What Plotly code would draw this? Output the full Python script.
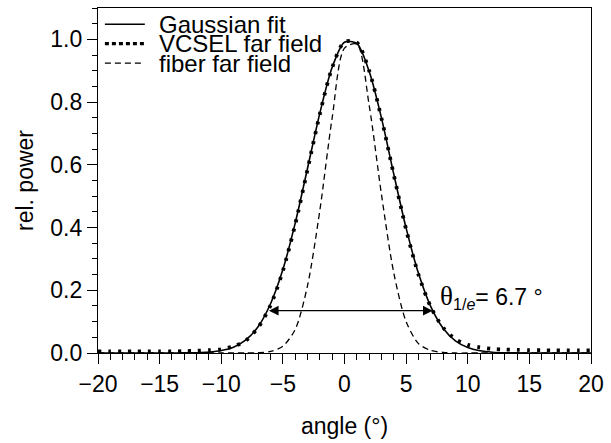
import plotly.graph_objects as go

# angle grid (degrees)
angle = list(range(-20, 21))

# Gaussian fit to the VCSEL far field
fit_power = [0.0, 0.0, 0.0, 0.0, 0.0, 0.0, 0.0001, 0.0003, 0.0010, 0.0029,
             0.0077, 0.0187, 0.0415, 0.0843, 0.157, 0.266, 0.414, 0.589, 0.765, 0.911,
             0.991, 0.987, 0.898, 0.749, 0.570, 0.398, 0.254, 0.148, 0.079, 0.0385,
             0.0172, 0.0070, 0.0026, 0.0009, 0.0003, 0.0, 0.0, 0.0, 0.0, 0.0, 0.0]

# measured VCSEL far field
vcsel_power = [0.005, 0.005, 0.005, 0.005, 0.005, 0.005, 0.005, 0.006, 0.007, 0.009,
               0.012, 0.021, 0.040, 0.082, 0.152, 0.262, 0.410, 0.585, 0.762, 0.910,
               0.992, 0.990, 0.900, 0.748, 0.568, 0.394, 0.250, 0.147, 0.081, 0.044,
               0.026, 0.018, 0.013, 0.011, 0.010, 0.009, 0.009, 0.008, 0.008, 0.008, 0.008]

# measured fiber far field
fiber_power = [0.0, 0.0, 0.0, 0.0, 0.0, 0.0, 0.0, 0.0, 0.0, 0.0,
               0.0, 0.0, 0.0, 0.001, 0.005, 0.022, 0.075, 0.215, 0.455, 0.750,
               0.972, 0.985, 0.790, 0.505, 0.255, 0.100, 0.030, 0.008, 0.002, 0.0,
               0.0, 0.0, 0.0, 0.0, 0.0, 0.0, 0.0, 0.0, 0.0, 0.0, 0.0]

fit_center = 0.45      # deg
theta_1e = 6.7         # deg, half width
arrow_level = 0.135    # 1/e^2 of peak

x_ticks = [-20, -15, -10, -5, 0, 5, 10, 15, 20]
y_ticks = [0.0, 0.2, 0.4, 0.6, 0.8, 1.0]

FONT = "Liberation Sans, Arial, sans-serif"

fig = go.Figure()
fig.add_trace(go.Scatter(x=angle, y=fiber_power, mode="lines", name="fiber far field",
                         line=dict(color="black", width=1.3, dash="6px,4px", shape="spline", smoothing=0.8)))
fig.add_trace(go.Scatter(x=angle, y=fit_power, mode="lines", name="Gaussian fit",
                         line=dict(color="black", width=1.6, shape="spline", smoothing=0.8)))
fig.add_trace(go.Scatter(x=angle, y=vcsel_power, mode="lines", name="VCSEL far field",
                         line=dict(color="black", width=3.8, dash="3px,7px", shape="spline", smoothing=0.8)))

# legend drawn inside the axes
legend_rows = [("Gaussian fit", "solid", 1.5), ("VCSEL far field", "4px,3px", 3.2),
               ("fiber far field", "6px,4px", 1.3)]
legend_y = [0.953, 0.897, 0.840]
shapes = []
annotations = []
for (label, dash, w), ly in zip(legend_rows, legend_y):
    shapes.append(dict(type="line", xref="x domain", yref="y domain",
                       x0=0.014, x1=0.095, y0=ly, y1=ly,
                       line=dict(color="black", width=w, dash=dash)))
    annotations.append(dict(xref="x domain", yref="y domain", x=0.120, y=ly,
                            text=label, showarrow=False, xanchor="left", yanchor="middle",
                            font=dict(family=FONT, size=24, color="black")))

# full width arrow at the 1/e^2 level
annotations.append(dict(x=fit_center + theta_1e, y=arrow_level,
                        ax=fit_center - theta_1e, ay=arrow_level,
                        xref="x", yref="y", axref="x", ayref="y",
                        text="", showarrow=True, arrowhead=2, arrowside="end+start",
                        arrowsize=1.6, arrowwidth=1.2, arrowcolor="black"))
annotations.append(dict(x=7.55, y=0.18, xref="x", yref="y", xanchor="left", yanchor="middle",
                        showarrow=False,
                        text=("<span style='font-family:Liberation Serif, Times New Roman, serif;font-size:27px'>θ</span>"
                              "<sub>1/<i>e</i></sub>= %.1f °" % theta_1e),
                        font=dict(family=FONT, size=23, color="black")))

fig.update_layout(
    width=611, height=443,
    margin=dict(l=98, r=18, t=7, b=90),
    paper_bgcolor="white", plot_bgcolor="white",
    showlegend=False,
    shapes=shapes, annotations=annotations,
    font=dict(family=FONT, size=23, color="black"),
)
fig.update_xaxes(
    range=[-20, 20], tickvals=x_ticks, ticktext=[("−%d" % -v) if v < 0 else str(v) for v in x_ticks],
    ticks="outside", ticklen=10, tickwidth=1.2, tickcolor="black",
    minor=dict(dtick=1, ticks="outside", ticklen=6, tickwidth=1.2, tickcolor="black"),
    showline=True, linecolor="black", linewidth=1.2, mirror=True,
    showgrid=False, zeroline=False,
    tickfont=dict(size=23),
    title=dict(text="angle (°)", font=dict(size=23), standoff=22),
)
fig.update_yaxes(
    range=[0, 1.1], tickvals=y_ticks, ticktext=["%.1f" % v for v in y_ticks],
    ticks="outside", ticklen=10, tickwidth=1.2, tickcolor="black",
    minor=dict(dtick=0.05, ticks="outside", ticklen=5, tickwidth=1.2, tickcolor="black"),
    showline=True, linecolor="black", linewidth=1.2, mirror=True,
    showgrid=False, zeroline=False,
    tickfont=dict(size=23),
    title=dict(text="rel. power", font=dict(size=23), standoff=10),
)

fig.write_html("out.html")
